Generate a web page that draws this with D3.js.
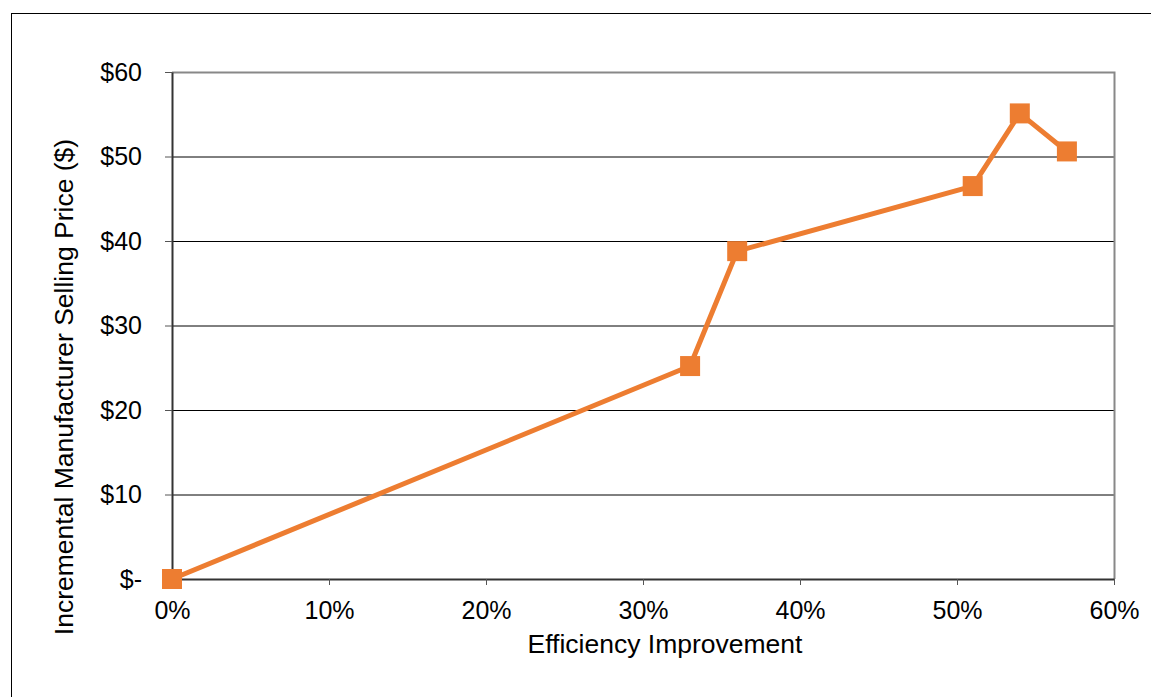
<!DOCTYPE html>
<html>
<head>
<meta charset="utf-8">
<script src="https://cdn.jsdelivr.net/npm/d3@7"></script>
<style>
  body { margin: 0; background: #fff; }
  svg { font-family: "Liberation Sans", Arial, sans-serif; }
</style>
</head>
<body>
<svg width="1151" height="697"></svg>
<script>
// efficiency improvement (fraction) vs incremental price ($)
var efficiency = [0, 0.33, 0.36, 0.51, 0.54, 0.57];
var price = [0, 25.2, 38.8, 46.5, 55.1, 50.6];
var xTicks = [0, 0.1, 0.2, 0.3, 0.4, 0.5, 0.6];
var yTicks = [0, 10, 20, 30, 40, 50, 60];

var svg = d3.select("svg");

let margin = { top: 72, right: 37, bottom: 118, left: 172 };
let plotWidth = 1151 - margin.left - margin.right;
let plotHeight = 697 - margin.top - margin.bottom;

// outer chart frame
svg.append("rect")
  .attr("x", 11.5).attr("y", 13.5)
  .attr("width", 1160).attr("height", 700)
  .attr("fill", "none")
  .attr("stroke", "#000")
  .attr("stroke-width", 1);

let x = d3.scaleLinear().domain([0, 0.6]).range([0, plotWidth]);
let y = d3.scaleLinear().domain([0, 60]).range([plotHeight, 0]);

let plot = svg.append("g")
  .attr("transform", "translate(" + margin.left + "," + margin.top + ")");

// gridlines
plot.append("g")
  .selectAll("line")
  .data(yTicks.slice(1, -1))
  .enter().append("line")
  .attr("x1", 0).attr("x2", plotWidth)
  .attr("y1", d => y(d) + 0.5).attr("y2", d => y(d) + 0.5)
  .attr("stroke", "#000").attr("stroke-width", 1);

// grey top/right border
plot.append("path")
  .attr("d", "M0," + 0.5 + "H" + (plotWidth + 0.5) + "V" + plotHeight)
  .attr("fill", "none").attr("stroke", "#888").attr("stroke-width", 2);

let xAxis = d3.axisBottom(x)
  .tickValues(xTicks)
  .tickFormat(d3.format(".0%"))
  .tickSize(6).tickSizeOuter(0).tickPadding(16);

let xGroup = plot.append("g")
  .attr("transform", "translate(0," + plotHeight + ")")
  .call(xAxis);
xGroup.select(".domain").attr("stroke", "#333").attr("stroke-width", 2);
xGroup.selectAll(".tick line").attr("stroke", "#555");
xGroup.selectAll("text").style("font-size", "25px").attr("fill", "#000");

let yAxis = d3.axisLeft(y)
  .tickValues(yTicks)
  .tickFormat(d => d === 0 ? "$-" : "$" + d)
  .tickSize(7).tickSizeOuter(0).tickPadding(23);

let yGroup = plot.append("g").call(yAxis);
yGroup.select(".domain").attr("stroke", "#333").attr("stroke-width", 2);
yGroup.selectAll(".tick line").attr("stroke", "#555");
yGroup.selectAll("text").style("font-size", "25px").attr("fill", "#000");

let points = efficiency.map((e, i) => [e, price[i]]);

plot.append("path")
  .datum(points)
  .attr("d", d3.line().x(d => x(d[0])).y(d => y(d[1])))
  .attr("fill", "none")
  .attr("stroke", "#ED7D31")
  .attr("stroke-width", 5)
  .attr("stroke-linejoin", "round");

plot.selectAll("rect.marker")
  .data(points)
  .enter().append("rect")
  .attr("class", "marker")
  .attr("x", d => x(d[0]) - 10)
  .attr("y", d => y(d[1]) - 10)
  .attr("width", 20).attr("height", 20)
  .attr("fill", "#ED7D31");

svg.append("text")
  .attr("x", 665)
  .attr("y", 653)
  .style("font-size", "26.5px")
  .style("text-anchor", "middle")
  .text("Efficiency Improvement");

svg.append("text")
  .attr("transform", "translate(73,387) rotate(-90)")
  .style("font-size", "26.5px")
  .style("text-anchor", "middle")
  .text("Incremental Manufacturer Selling Price ($)");
</script>
</body>
</html>
